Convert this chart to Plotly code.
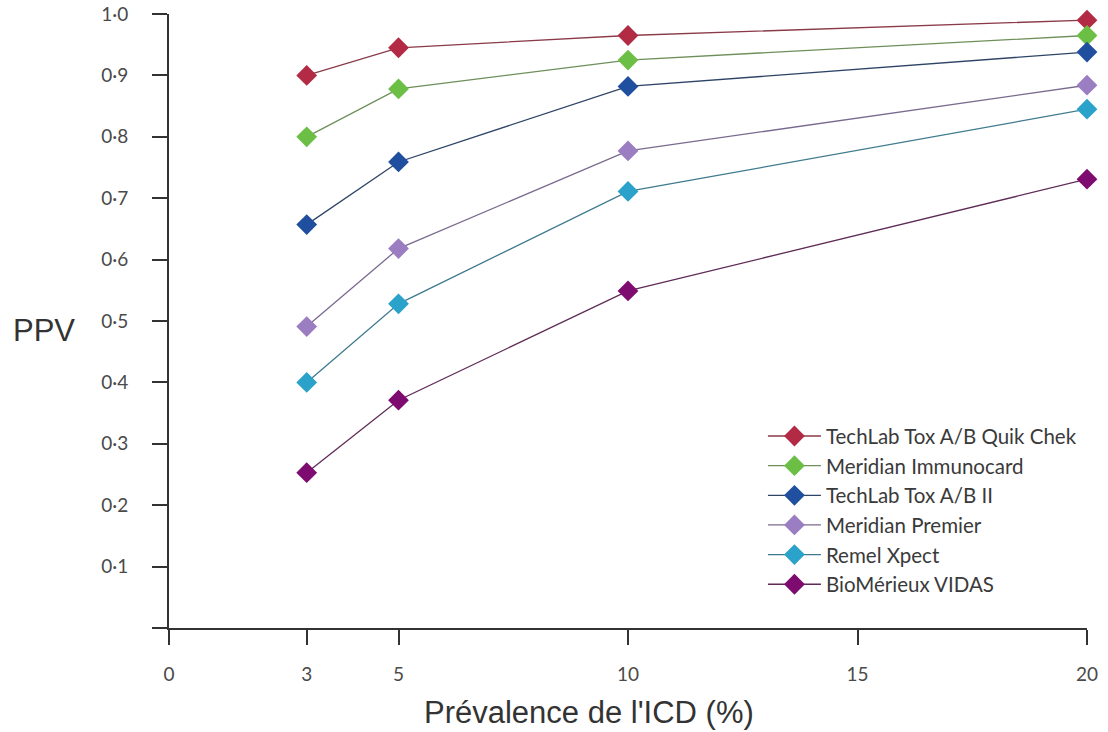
import plotly.graph_objects as go

prevalence = [3, 5, 10, 20]
series_names = [
    "TechLab Tox A/B Quik Chek",
    "Meridian Immunocard",
    "TechLab Tox A/B II",
    "Meridian Premier",
    "Remel Xpect",
    "BioMérieux VIDAS",
]
quik_chek = [0.90, 0.945, 0.965, 0.99]
immunocard = [0.80, 0.878, 0.925, 0.965]
techlab_ii = [0.657, 0.759, 0.882, 0.938]
premier = [0.491, 0.618, 0.777, 0.884]
remel = [0.400, 0.528, 0.711, 0.845]
vidas = [0.253, 0.371, 0.549, 0.731]
series_values = [quik_chek, immunocard, techlab_ii, premier, remel, vidas]

marker_colors = ["#B22A43", "#6CBF45", "#1F4F9E", "#9B7DC2", "#2AA2C9", "#7E0C70"]
line_colors = ["#8A3A48", "#6E8F5A", "#2E4466", "#7A6A8E", "#3F7A8E", "#5E2A56"]

x_ticks = [0, 3, 5, 10, 15, 20]
y_ticks = [0, 0.1, 0.2, 0.3, 0.4, 0.5, 0.6, 0.7, 0.8, 0.9, 1.0]
y_ticktext = ["", "0·1", "0·2", "0·3", "0·4", "0·5", "0·6", "0·7", "0·8", "0·9", "1·0"]

fig = go.Figure()
for i, (name, vals) in enumerate(zip(series_names, series_values)):
    fig.add_trace(go.Scatter(
        x=prevalence, y=vals, name=name, mode="lines+markers",
        line=dict(color=line_colors[i], width=1.3),
        marker=dict(symbol="diamond", size=16, color=marker_colors[i]),
        cliponaxis=False,
    ))

tick_font = dict(family="Lato, Open Sans, sans-serif", size=19, color="#4a4a4a")
fig.update_layout(
    width=1108, height=732,
    margin=dict(l=169, r=21, t=14, b=104),
    paper_bgcolor="white", plot_bgcolor="white",
    showlegend=True,
    legend=dict(
        x=0.647, y=0.345, xanchor="left", yanchor="top",
        font=dict(family="Lato, Open Sans, sans-serif", size=20.5, color="#3a3a3a"),
        bgcolor="rgba(0,0,0,0)", itemwidth=53,
    ),
    xaxis=dict(
        range=[0, 20], tickvals=x_ticks, ticktext=[str(v) for v in x_ticks],
        showgrid=False, zeroline=False, showline=True, linecolor="#333", linewidth=2,
        ticks="outside", ticklen=15, tickwidth=2, tickcolor="#333",
        tickfont=tick_font, ticklabelstandoff=13, automargin=False,
    ),
    yaxis=dict(
        range=[0, 1.0], tickvals=y_ticks, ticktext=y_ticktext,
        showgrid=False, zeroline=False, showline=True, linecolor="#333", linewidth=2,
        ticks="outside", ticklen=15, tickwidth=2, tickcolor="#333",
        tickfont=tick_font, ticklabelstandoff=20, automargin=False,
    ),
    annotations=[
        dict(text="PPV", xref="paper", yref="paper", x=-0.172, y=0.485,
             xanchor="left", yanchor="middle", showarrow=False,
             font=dict(family="Liberation Sans, Arial, sans-serif", size=31, color="#333")),
        dict(text="Prévalence de l'ICD (%)", xref="paper", yref="paper", x=0.457, y=-0.137,
             xanchor="center", yanchor="middle", showarrow=False,
             font=dict(family="Liberation Sans, Arial, sans-serif", size=31, color="#333")),
    ],
)

fig.write_html("out.html")
